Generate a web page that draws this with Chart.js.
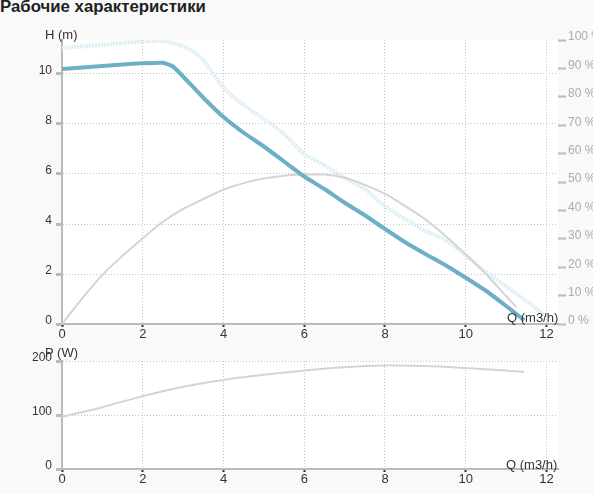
<!DOCTYPE html>
<html><head><meta charset="utf-8">
<script src="https://cdn.jsdelivr.net/npm/chart.js@4.4.0/dist/chart.umd.min.js"></script>
<style>
html,body{margin:0;padding:0;background:#f9f9f9;width:593px;height:494px;overflow:hidden;font-family:"Liberation Sans",Arial,sans-serif;}
#title{position:absolute;left:0;top:-3px;font-weight:bold;font-size:16.8px;color:#222;white-space:nowrap;}
.lbl{position:absolute;font-size:13px;color:#333;white-space:nowrap;line-height:15px;}
canvas{position:absolute;left:0;}
</style></head><body>
<div id="title">Рабочие характеристики</div>
<canvas id="c1" width="593" height="330" style="top:20px"></canvas>
<canvas id="c2" width="593" height="149" style="top:345px"></canvas>
<div class="lbl" style="left:45px;top:27px">H (m)</div>
<div class="lbl" style="left:507px;top:310px">Q (m3/h)</div>
<div class="lbl" style="left:45px;top:345px">P (W)</div>
<div class="lbl" style="left:506px;top:457px">Q (m3/h)</div>
<script>
// ---- data ----
const qHead = [0,0.5,1,1.5,2,2.5,2.75,3,3.5,4,4.5,5,5.5,6,6.5,7,7.5,8,8.5,9,9.5,10,10.5,11,11.45];
const headM = [10.2,10.26,10.32,10.38,10.43,10.45,10.3,9.9,9.05,8.28,7.65,7.1,6.5,5.9,5.4,4.85,4.35,3.8,3.27,2.8,2.35,1.85,1.33,0.72,0.15];

const qMax = [0,0.5,1,1.5,2,2.4,2.8,3.2,3.5,4,4.5,5,5.5,6,6.5,7,7.5,8,8.5,9,9.5,10,10.5,11,11.5,12];
const headMax = [11.04,11.1,11.17,11.24,11.3,11.33,11.22,10.95,10.55,9.45,8.75,8.2,7.6,6.8,6.35,5.85,5.4,4.7,4.2,3.72,3.37,2.74,2.1,1.5,0.92,0.3];

const qEff = [0,0.5,1,1.5,2,2.5,3,3.5,4,4.5,5,5.5,6,6.5,7,7.5,8,8.5,9,9.5,10,10.5,11,11.25];
const effPct = [0,9,17.3,24,30.2,36,40.5,44,47.3,49.6,51.2,52.2,52.6,52.6,51.5,49,45.8,41.5,36.8,31,24.5,17.6,9.8,6];

const qPow = [0,1,2,3,4,5,6,7,8,9,10,11,11.45];
const powerW = [97,114.5,135,152.5,165,174.5,182.5,188.5,191.7,190.7,187,182.5,179.6];

const qTickStep = 2, hTickStep = 2, effTickStep = 10, pTickStep = 100;

// ---- chart ----
const pts = (xs, ys) => xs.map((x, i) => ({x, y: ys[i]}));
Chart.defaults.font.family = '"Liberation Sans", Arial, sans-serif';
Chart.defaults.animation = false;

const bg = {id:'bg', beforeDraw(c){const {ctx, chartArea:a} = c; ctx.save(); ctx.fillStyle = '#fff'; ctx.fillRect(a.left, a.top, a.right - a.left, a.bottom - a.top); ctx.restore();}};

const XMAX = 12.285;
function xAxis(h){
  return {type:'linear', min:0, max:XMAX,
    ticks:{stepSize:qTickStep, includeBounds:false, color:'#333', font:{size:13}, padding:0, maxRotation:0},
    grid:{color:'#c4c4c4', tickColor:'#333', tickWidth:2, tickLength:3},
    border:{color:'#bbb', width:2, dash:[1,2]},
    afterFit(s){ s.height = h; }};
}
function yAxis(min, max, step){
  return {type:'linear', position:'left', min, max,
    ticks:{stepSize:step, includeBounds:false, color:'#333', font:{size:12}, padding:4, labelOffset:-3},
    grid:{color:'#c4c4c4', tickColor:'#bbb', tickWidth:3, tickLength:6},
    border:{color:'#bbb', width:2, dash:[1,2]},
    afterFit(s){ s.width = 62; }};
}

new Chart(document.getElementById('c1'), {
  type:'line',
  data:{datasets:[
    {data:pts(qHead, headM), yAxisID:'y', borderColor:'#6cafc6', borderWidth:4, pointRadius:0, tension:0.15, order:0},
    {data:pts(qEff, effPct), yAxisID:'y2', borderColor:'#d4d4d4', borderWidth:2, pointRadius:0, tension:0.3, order:1},
    {data:pts(qMax, headMax), yAxisID:'y', borderColor:'#dbedf4', borderWidth:4, borderDash:[2,1], pointRadius:0, tension:0.2, order:2}
  ]},
  options:{responsive:false, parsing:true,
    layout:{padding:{top:20, left:0, right:0, bottom:0}},
    plugins:{legend:{display:false}, tooltip:{enabled:false}},
    scales:{
      x: xAxis(26),
      y: yAxis(0, 11.36, hTickStep),
      y2:{type:'linear', position:'right', min:0, max:100,
        ticks:{stepSize:effTickStep, color:'#aaa', font:{size:12}, padding:2, labelOffset:-3, callback:v => v + ' %'},
        grid:{drawOnChartArea:false, tickColor:'#bbb', tickWidth:2, tickLength:8},
        border:{display:false},
        afterFit(s){ s.width = 35; }}
    }},
  plugins:[bg]
});

new Chart(document.getElementById('c2'), {
  type:'line',
  data:{datasets:[
    {data:pts(qPow, powerW), borderColor:'#d4d4d4', borderWidth:2, pointRadius:0, tension:0.3}
  ]},
  options:{responsive:false,
    layout:{padding:{top:16, left:0, right:35, bottom:0}},
    plugins:{legend:{display:false}, tooltip:{enabled:false}},
    scales:{ x: xAxis(25), y: yAxis(0, 200, pTickStep) }},
  plugins:[bg]
});
</script>
</body></html>
